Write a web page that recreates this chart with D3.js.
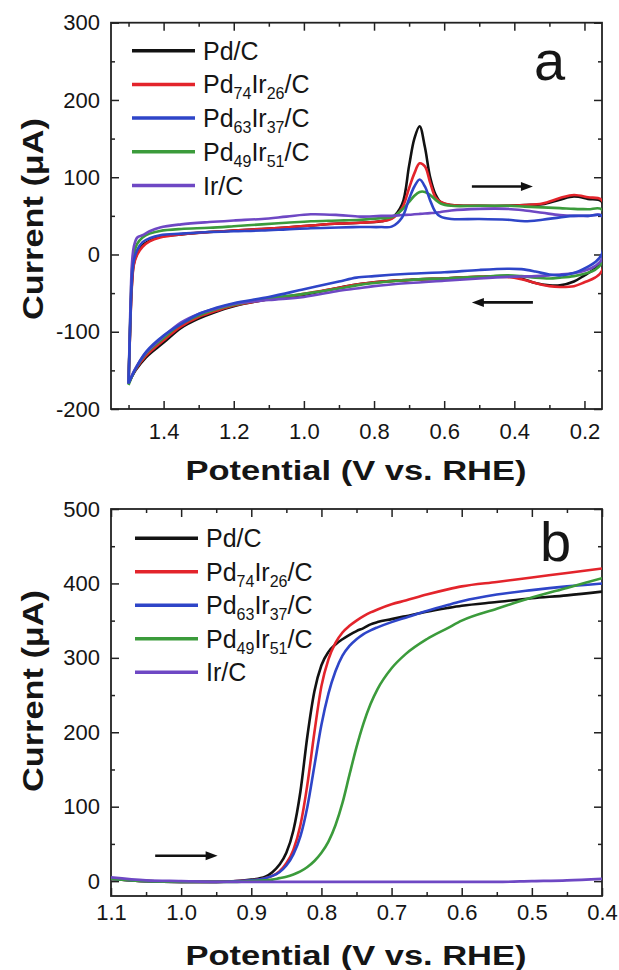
<!DOCTYPE html>
<html>
<head>
<meta charset="utf-8">
<script src="https://cdn.jsdelivr.net/npm/d3@7"></script>
<style>
  body { margin: 0; background: #fff; }
  text { font-family: "Liberation Sans", Arial, sans-serif; fill: #151515; }
</style>
</head>
<body>
<script>
// ---- series names / colours ----
var seriesNames = ["Pd/C", "Pd74Ir26/C", "Pd63Ir37/C", "Pd49Ir51/C", "Ir/C"];
var seriesColors = ["#121212", "#e3242b", "#2e45c8", "#3b9b3b", "#6e48c4"];

// ---- (a) cyclic voltammetry: potential grids (V vs RHE) ----
var cvUpperV = [1.5, 1.497, 1.494, 1.49, 1.485, 1.475, 1.46, 1.44, 1.41, 1.35, 1.27, 1.2, 1.12, 1.05, 0.98, 0.9,
  0.84, 0.78, 0.75, 0.72, 0.7, 0.685, 0.67, 0.655, 0.64, 0.625, 0.61, 0.58, 0.5, 0.42, 0.37, 0.32, 0.27, 0.23, 0.19, 0.15];
var cvLowerV = [0.15, 0.17, 0.2, 0.23, 0.27, 0.3, 0.34, 0.38, 0.42, 0.5, 0.6, 0.7, 0.8, 0.85, 0.9, 1.0, 1.1, 1.2,
  1.25, 1.3, 1.35, 1.4, 1.45, 1.48, 1.5];

// currents (uA), upper branch
var cvUpperPd   = [-167, -120, -75, -35, -12, 2, 12, 18, 23, 26, 29, 31, 33, 35, 37.5, 40, 41, 43, 47, 65, 115, 150, 166, 139, 100, 78, 68, 64, 63, 63, 64, 65, 71, 75, 72, 68];
var cvUpperPd74 = [-167, -121, -78, -38, -14, 0, 10, 17, 22, 26, 29, 31, 33, 35, 37.5, 40, 41, 43, 46, 60, 86, 105, 118, 114, 93, 74, 68, 64, 63, 63, 64, 66, 73, 77, 74, 70];
var cvUpperPd63 = [-167, -118, -72, -30, -8, 6, 16, 21, 25, 27, 29, 30, 31, 32.5, 34, 35, 35.5, 35.5, 36, 48, 72, 88, 97, 88, 70, 55, 49, 46, 46, 45, 43, 45, 48, 50, 50, 50];
var cvUpperPd49 = [-167, -115, -65, -20, 0, 14, 22, 27, 30.5, 33, 34.5, 36.5, 39, 41, 43, 44, 45, 47, 48, 58, 68, 76, 81, 81, 77, 71, 66, 63, 63, 63, 62, 61, 60, 59, 58.5, 58];
var cvUpperIr   = [-167, -110, -55, -10, 10, 22, 25, 30, 35, 39, 42, 44, 46, 49, 52, 51, 49, 50, 50, 51, 51.5, 52, 52.5, 53, 53.5, 54, 55, 57, 59, 59, 57, 54, 51, 50, 50, 50];

// currents (uA), lower branch
var cvLowerPd   = [-8, -18, -27, -35, -40, -40, -37, -31, -28, -29, -31, -33, -36, -39, -43, -52, -58, -67, -74, -83, -95, -114, -133, -150, -167];
var cvLowerPd74 = [-21, -30, -36, -41, -42, -41, -37, -32, -29, -29, -31, -33, -36, -39, -43, -51, -58, -66, -73, -81, -93, -111, -131, -149, -167];
var cvLowerPd63 = [1, -10, -18, -24, -27, -26, -22, -19, -18.5, -20, -23, -25, -28, -30, -35, -45, -55, -63, -69, -77, -90, -105, -126, -148, -167];
var cvLowerPd49 = [-10, -20, -25, -28, -30, -31, -30, -28, -27, -29, -31, -33, -37, -40, -44, -51, -57, -65, -71, -79, -90, -108, -128, -148, -169];
var cvLowerIr   = [-6, -15, -21, -24, -26, -27, -28, -28.5, -29, -31, -34, -37, -41, -44, -47, -55, -59, -64, -70, -77, -88, -106, -127, -147, -166];

// ---- (b) linear sweep voltammetry ----
var lsvV = [1.1, 1.05, 1.0, 0.95, 0.92, 0.9, 0.88, 0.87, 0.86, 0.85, 0.84, 0.83, 0.82, 0.81, 0.8, 0.79,
  0.78, 0.77, 0.76, 0.75, 0.74, 0.73, 0.72, 0.7, 0.68, 0.65, 0.62, 0.6, 0.55, 0.5, 0.45, 0.4];
var lsvPd   = [3, 0, -1, -1, 0, 2, 6, 12, 22, 38, 68, 120, 195, 255, 290, 308, 318, 325, 331, 336, 340, 345, 348, 352, 356, 362, 367, 370, 375, 380, 384, 389];
var lsvPd74 = [3, 0, -1, -1, 0, 1, 4, 7, 13, 24, 42, 75, 130, 200, 262, 298, 320, 334, 343, 350, 356, 361, 365, 372, 377, 385, 392, 396, 402, 408, 414, 420];
var lsvPd63 = [3, 0, -1, -1, 0, 1, 4, 7, 12, 21, 36, 60, 100, 155, 210, 252, 282, 303, 316, 325, 332, 337, 341, 348, 354, 363, 371, 376, 385, 391, 396, 400];
var lsvPd49 = [3, 0, -1, -1, -1, 0, 1, 2, 4, 6, 9, 13, 19, 27, 38, 53, 75, 105, 143, 180, 212, 238, 258, 286, 305, 325, 340, 350, 366, 381, 394, 407];
var lsvIr   = [5, 1, 0, -1, -1, -1, -1, -1, -1, -1, -1, -1, -1, -1, -1, -1, -1, -1, -1, -1, -1, -1, -1, -1, -1, -1, -1, -1, -1, 0, 1, 3];

// ---- tick values ----
var cvXTicks = [1.4, 1.2, 1.0, 0.8, 0.6, 0.4, 0.2];
var cvXMinor = [1.5, 1.3, 1.1, 0.9, 0.7, 0.5, 0.3];
var cvYTicks = [-200, -100, 0, 100, 200, 300];
var cvYMinor = [-150, -50, 50, 150, 250];
var lsvXTicks = [1.1, 1.0, 0.9, 0.8, 0.7, 0.6, 0.5, 0.4];
var lsvXMinor = [1.05, 0.95, 0.85, 0.75, 0.65, 0.55, 0.45];
var lsvYTicks = [0, 100, 200, 300, 400, 500];
var lsvYMinor = [50, 150, 250, 350, 450];

// arrows, in data units [V, uA]
var cvArrows = [[[0.521, 88], [0.347, 88]], [[0.347, -62], [0.521, -62]]];
var lsvArrows = [[[1.037, 34], [0.948, 34]]];

(function () {
    var svg = d3.select("body").append("svg")
        .attr("width", 619)
        .attr("height", 970);

    var cvUpper = [cvUpperPd, cvUpperPd74, cvUpperPd63, cvUpperPd49, cvUpperIr];
    var cvLower = [cvLowerPd, cvLowerPd74, cvLowerPd63, cvLowerPd49, cvLowerIr];
    var lsvAll = [lsvPd, lsvPd74, lsvPd63, lsvPd49, lsvIr];

    var xA = d3.scaleLinear().domain([1.55, 0.15]).range([111, 602]);
    var yA = d3.scaleLinear().domain([-200, 300]).range([409, 22.7]);
    var xB = d3.scaleLinear().domain([1.1, 0.4]).range([111, 602]);
    var yB = d3.scaleLinear().domain([-20, 500]).range([896, 509]);

    function noDomain(g) { g.select(".domain").remove(); }

    function drawAxes(x, y, xMajor, xMinor, yMajor, yMinor, xFmt, xPad) {
        var left = x.range()[0], right = x.range()[1];
        var top = y.range()[1], bottom = y.range()[0];
        var g = svg.append("g").attr("class", "axes");

        g.append("g").attr("transform", "translate(0," + bottom + ")")
            .call(d3.axisBottom(x).tickValues(xMajor).tickSizeInner(-8).tickSizeOuter(0)
                .tickPadding(xPad).tickFormat(xFmt)).call(noDomain);
        g.append("g").attr("transform", "translate(0," + bottom + ")")
            .call(d3.axisBottom(x).tickValues(xMinor).tickSizeInner(-4).tickSizeOuter(0).tickFormat("")).call(noDomain);
        g.append("g").attr("transform", "translate(0," + top + ")")
            .call(d3.axisTop(x).tickValues(xMajor).tickSizeInner(-8).tickSizeOuter(0).tickFormat("")).call(noDomain);
        g.append("g").attr("transform", "translate(0," + top + ")")
            .call(d3.axisTop(x).tickValues(xMinor).tickSizeInner(-4).tickSizeOuter(0).tickFormat("")).call(noDomain);

        g.append("g").attr("transform", "translate(" + left + ",0)")
            .call(d3.axisLeft(y).tickValues(yMajor).tickSizeInner(-8).tickSizeOuter(0)
                .tickPadding(11).tickFormat(function (d) { return String(d); })).call(noDomain);
        g.append("g").attr("transform", "translate(" + left + ",0)")
            .call(d3.axisLeft(y).tickValues(yMinor).tickSizeInner(-4).tickSizeOuter(0).tickFormat("")).call(noDomain);
        g.append("g").attr("transform", "translate(" + right + ",0)")
            .call(d3.axisRight(y).tickValues(yMajor).tickSizeInner(-8).tickSizeOuter(0).tickFormat("")).call(noDomain);
        g.append("g").attr("transform", "translate(" + right + ",0)")
            .call(d3.axisRight(y).tickValues(yMinor).tickSizeInner(-4).tickSizeOuter(0).tickFormat("")).call(noDomain);

        g.selectAll(".tick line").attr("stroke", "#222").attr("stroke-width", 1.5);
        g.selectAll(".tick text").attr("font-size", 22).attr("fill", "#222")
            .attr("font-family", "'Liberation Sans', Arial, sans-serif");

        svg.append("rect")
            .attr("x", left).attr("y", top)
            .attr("width", right - left).attr("height", bottom - top)
            .attr("fill", "none").attr("stroke", "#222").attr("stroke-width", 1.8);
    }

    function clip(id, x, y) {
        svg.append("clipPath").attr("id", id).append("rect")
            .attr("x", x.range()[0]).attr("y", y.range()[1])
            .attr("width", x.range()[1] - x.range()[0])
            .attr("height", y.range()[0] - y.range()[1]);
    }

    // label text with digits as subscripts
    function richText(sel, str, size) {
        var parts = str.match(/\d+|\D+/g);
        var down = false;
        parts.forEach(function (p) {
            var isSub = /^\d+$/.test(p);
            var t = sel.append("tspan").text(p);
            if (isSub) {
                t.attr("font-size", size * 0.64).attr("dy", down ? 0 : 6);
                down = true;
            } else {
                t.attr("font-size", size).attr("dy", down ? -6 : 0);
                down = false;
            }
        });
    }

    function legend(x0, y0, step) {
        seriesNames.forEach(function (name, i) {
            var yy = y0 + i * step;
            svg.append("line")
                .attr("x1", x0).attr("x2", x0 + 63)
                .attr("y1", yy).attr("y2", yy)
                .attr("stroke", seriesColors[i]).attr("stroke-width", 3.5);
            var t = svg.append("text").attr("x", x0 + 71).attr("y", yy + 9);
            richText(t, name, 25);
        });
    }

    function arrows(list, x, y) {
        list.forEach(function (a) {
            var x1 = x(a[0][0]), y1 = y(a[0][1]), x2 = x(a[1][0]), y2 = y(a[1][1]);
            var dir = x2 > x1 ? 1 : -1;
            svg.append("line")
                .attr("x1", x1).attr("y1", y1).attr("x2", x2 - dir * 8).attr("y2", y2)
                .attr("stroke", "#111").attr("stroke-width", 2.6);
            svg.append("path")
                .attr("d", "M" + x2 + "," + y2 + "L" + (x2 - dir * 12) + "," + (y2 - 4.5) +
                    "L" + (x2 - dir * 12) + "," + (y2 + 4.5) + "Z")
                .attr("fill", "#111");
        });
    }

    function yTitle(cy) {
        svg.append("text")
            .attr("transform", "translate(43," + cy + ") rotate(-90)")
            .attr("text-anchor", "middle")
            .attr("font-size", 30).attr("font-weight", "bold")
            .attr("textLength", 202).attr("lengthAdjust", "spacingAndGlyphs")
            .text("Current (\u03bcA)");
    }

    function xTitle(by) {
        svg.append("text")
            .attr("x", 356).attr("y", by)
            .attr("text-anchor", "middle")
            .attr("font-size", 27).attr("font-weight", "bold")
            .attr("textLength", 341).attr("lengthAdjust", "spacingAndGlyphs")
            .text("Potential (V vs. RHE)");
    }

    // ---------- panel a ----------
    clip("clipA", xA, yA);
    drawAxes(xA, yA, cvXTicks, cvXMinor, cvYTicks, cvYMinor, d3.format(".1f"), 14);

    var lineA = d3.line()
        .x(function (d) { return xA(d[0]); })
        .y(function (d) { return yA(d[1]); })
        .curve(d3.curveCatmullRom.alpha(0.5));

    var orderA = [0, 1, 3, 4, 2];
    var gA = svg.append("g").attr("clip-path", "url(#clipA)");
    orderA.forEach(function (i) {
        var pts = cvUpperV.map(function (v, k) { return [v, cvUpper[i][k]]; })
            .concat(cvLowerV.map(function (v, k) { return [v, cvLower[i][k]]; }));
        gA.append("path")
            .datum(pts)
            .attr("d", lineA)
            .attr("fill", "none")
            .attr("stroke", seriesColors[i])
            .attr("stroke-width", 2.6)
            .attr("stroke-linejoin", "round");
    });

    legend(132, 50.7, 33.7);
    arrows(cvArrows, xA, yA);
    svg.append("text").attr("x", 534).attr("y", 80).attr("font-size", 56).text("a");
    yTitle(219);
    xTitle(480);

    // ---------- panel b ----------
    clip("clipB", xB, yB);
    drawAxes(xB, yB, lsvXTicks, lsvXMinor, lsvYTicks, lsvYMinor, d3.format(".1f"), 8);

    var lineB = d3.line()
        .x(function (d) { return xB(d[0]); })
        .y(function (d) { return yB(d[1]); })
        .curve(d3.curveMonotoneX);

    var gB = svg.append("g").attr("clip-path", "url(#clipB)");
    [0, 1, 2, 3, 4].forEach(function (i) {
        var pts = lsvV.map(function (v, k) { return [v, lsvAll[i][k]]; });
        gB.append("path")
            .datum(pts)
            .attr("d", lineB)
            .attr("fill", "none")
            .attr("stroke", seriesColors[i])
            .attr("stroke-width", 2.6);
    });

    legend(135, 538.3, 33.5);
    arrows(lsvArrows, xB, yB);
    svg.append("text").attr("x", 540).attr("y", 561).attr("font-size", 56).text("b");
    yTitle(691);
    xTitle(965);
})();
</script>
</body>
</html>
